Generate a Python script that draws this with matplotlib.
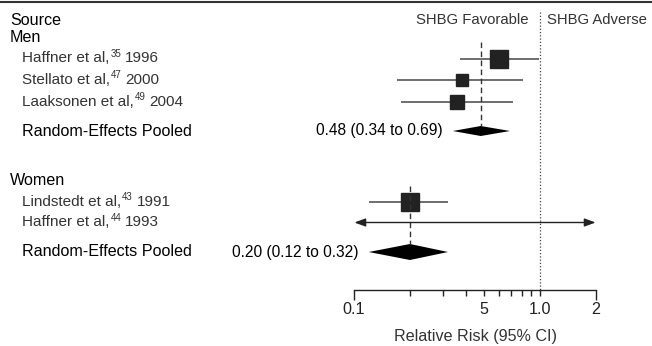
import numpy as np
import matplotlib
matplotlib.use("Agg")
import matplotlib.pyplot as plt
from matplotlib.lines import Line2D

plt.rcParams['font.family'] = ['Liberation Sans', 'DejaVu Sans']

# ---------------- data ----------------
men_names = ["Haffner et al,", "Stellato et al,", "Laaksonen et al,"]
men_refs = ["35", "47", "49"]
men_years = ["1996", "2000", "2004"]
men_est = [0.60, 0.38, 0.36]
men_lo = [0.37, 0.17, 0.18]
men_hi = [0.99, 0.81, 0.72]
men_pooled = [0.48, 0.34, 0.69]

women_names = ["Lindstedt et al,", "Haffner et al,"]
women_refs = ["43", "44"]
women_years = ["1991", "1993"]
women_est = [0.20, np.nan]
women_lo = [0.12, 0.05]
women_hi = [0.32, 5.0]
women_pooled = [0.20, 0.12, 0.32]

tick_vals = [0.1, 0.2, 0.3, 0.4, 0.5, 0.6, 0.7, 0.8, 0.9, 1.0, 2.0]
tick_labels = ["0.1", "", "", "", "5", "", "", "", "", "1.0", "2"]

# ---------------- layout (pixels) ----------------
W, H = 652, 346
fig = plt.figure(figsize=(W / 100, H / 100), dpi=100)
renderer = fig.canvas.get_renderer()
bg = fig.add_axes([0, 0, 1, 1])
bg.set_xlim(0, W)
bg.set_ylim(H, 0)
bg.axis('off')

fs = 11.6        # main labels
fs_study = 11.0  # study names
fs_head = 10.7   # headers
fs_val = 11.2    # pooled values
txtc = '#333333'

ax_left, ax_right, ax_bottom = 354, 596, 290
ax = fig.add_axes([ax_left / W, 1 - ax_bottom / H, (ax_right - ax_left) / W, ax_bottom / H])
ax.set_xscale('log')
ax.set_xlim(0.1, 2.0)
ax.set_ylim(ax_bottom, 0)
ax.patch.set_alpha(0)
for s in ['top', 'left', 'right']:
    ax.spines[s].set_visible(False)
ax.spines['bottom'].set_linewidth(1.0)
ax.spines['bottom'].set_color('#222222')
ax.yaxis.set_visible(False)
ax.xaxis.set_minor_locator(matplotlib.ticker.NullLocator())
ax.set_xticks(tick_vals)
ax.set_xticklabels(tick_labels)
ax.tick_params(axis='x', direction='out', length=4, width=1.0, color='#222222',
               labelsize=fs, pad=5, labelcolor='#222222')
for t, v in zip(ax.xaxis.get_major_ticks(), tick_vals):
    if v in (0.1, 2.0):
        t.tick1line.set_markersize(7)

# top border
fig.add_artist(Line2D([0, 1], [1 - 1.5 / H, 1 - 1.5 / H], transform=fig.transFigure,
                      color='#333333', lw=1.5))

bg.text(10, 20.5, "Source", fontsize=fs, va='center', ha='left', color='black')
bg.text(10, 37, "Men", fontsize=fs, va='center', ha='left', color='black')
bg.text(10, 180.5, "Women", fontsize=fs, va='center', ha='left', color='black')

# headers
ax.annotate("SHBG Favorable", xy=(1.0, 20.5), xytext=(-12, 0), textcoords='offset pixels',
            fontsize=fs_head, ha='right', va='center', color=txtc)
ax.annotate("SHBG Adverse", xy=(1.0, 20.5), xytext=(6.5, 0), textcoords='offset pixels',
            fontsize=fs_head, ha='left', va='center', color=txtc)
# null line
ax.plot([1.0, 1.0], [12, ax_bottom], color='#444444', lw=0.9, ls=(0, (1, 1.6)))

men_y = [58.5, 80, 102]
men_pool_y = 131
men_sizes = [13.5, 8.5, 10]
women_y = [201.5, 222.5]
women_pool_y = 252
women_sizes = [13.5, 0]

ci_color = '#555555'


def label_with_ref(x, y, name, ref, year):
    t1 = bg.text(x, y, name, fontsize=fs_study, va='center', ha='left', color=txtc)
    bb = t1.get_window_extent(renderer=renderer)
    t2 = bg.text(bb.x1 + 1.0, y - 4.5, ref, fontsize=fs_study * 0.64, va='center', ha='left', color=txtc)
    bb2 = t2.get_window_extent(renderer=renderer)
    bg.text(bb2.x1 + 3.5, y, year, fontsize=fs_study, va='center', ha='left', color=txtc)


def draw_study(name, ref, year, y, est, lo, hi, size):
    label_with_ref(22, y, name, ref, year)
    if np.isnan(est) or lo < 0.1 or hi > 2.0:
        ax.annotate('', xy=(min(hi, 2.0) * 0.995, y), xytext=(max(lo, 0.1) * 1.005, y),
                    arrowprops=dict(arrowstyle='<|-|>,head_length=0.6,head_width=0.22',
                                    color='#222222', lw=1.0,
                                    mutation_scale=11, shrinkA=0, shrinkB=0))
    else:
        ax.plot([lo, hi], [y, y], color=ci_color, lw=1.2, solid_capstyle='butt')
    if not np.isnan(est):
        ax.plot([est], [y], marker='s', ms=size, color='#222222', mec='#222222')


def draw_pooled(y, est, lo, hi, half_h, dash_top):
    bg.text(22, y, "Random-Effects Pooled", fontsize=fs, va='center', ha='left', color='black')
    ax.plot([est, est], [dash_top, y - half_h], color='#333333', lw=1.0, ls=(0, (4, 2.5)))
    ax.fill([lo, est, hi, est], [y, y - half_h, y, y + half_h], color='black', lw=0)
    ax.annotate(f"{est:.2f} ({lo:.2f} to {hi:.2f})", xy=(lo, y), xytext=(-10, 0),
                textcoords='offset pixels', ha='right', va='center', fontsize=fs_val, color='black')


for n, r, yr, y, e, l, h, s in zip(men_names, men_refs, men_years, men_y, men_est, men_lo, men_hi, men_sizes):
    draw_study(n, r, yr, y, e, l, h, s)
draw_pooled(men_pool_y, *men_pooled, 5, 42)

for n, r, yr, y, e, l, h, s in zip(women_names, women_refs, women_years, women_y, women_est, women_lo, women_hi, women_sizes):
    draw_study(n, r, yr, y, e, l, h, s)
draw_pooled(women_pool_y, *women_pooled, 8, 186)

bg.text(475, 336, "Relative Risk (95% CI)", fontsize=fs, ha='center', va='center', color=txtc)

fig.savefig("out.png", dpi=100)
